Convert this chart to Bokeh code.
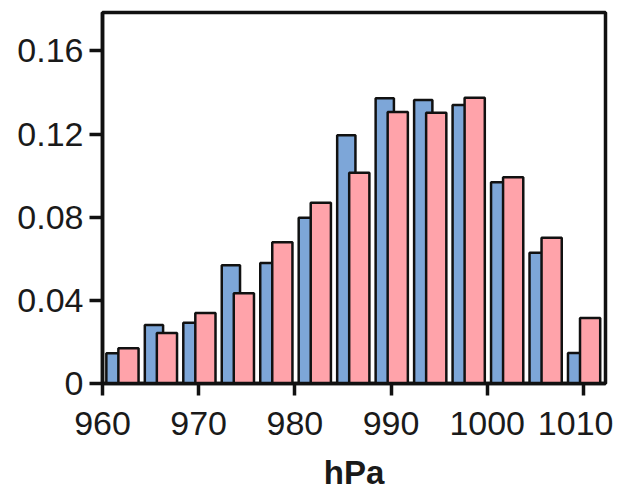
from bokeh.plotting import figure
from bokeh.models import FixedTicker, Range1d
from bokeh.embed import file_html
from bokeh.resources import INLINE

bin_start = [960, 964, 968, 972, 976, 980, 984, 988, 992, 996, 1000, 1004, 1008]
blue_vals = [0.0145, 0.0281, 0.0292, 0.0569, 0.0580, 0.0797, 0.1194, 0.1373, 0.1364, 0.1340, 0.0968, 0.0629, 0.0147]
pink_vals = [0.0169, 0.0243, 0.0339, 0.0434, 0.0679, 0.0870, 0.1014, 0.1306, 0.1303, 0.1375, 0.0992, 0.0701, 0.0315]
x_ticks = [960, 970, 980, 990, 1000, 1010]
y_ticks = [0, 0.04, 0.08, 0.12, 0.16]
y_labels = ["0", "0.04", "0.08", "0.12", "0.16"]

FONT = "Liberation Sans"

p = figure(width=613, height=494, output_backend="svg", toolbar_location=None,
           x_range=Range1d(960, 1012.3), y_range=Range1d(0, 0.1785),
           min_border_left=102, min_border_right=8, min_border_top=12, min_border_bottom=111)

blue_x = [s + 1.35 for s in bin_start]
pink_x = [s + 2.7 for s in bin_start]
p.vbar(x=blue_x, top=blue_vals, width=1.9, bottom=0, fill_color="#7DA6D8",
       line_color="#111111", line_width=2.5)
p.vbar(x=pink_x, top=pink_vals, width=2.1, bottom=0, fill_color="#FFA3AA",
       line_color="#111111", line_width=2.5)

p.xgrid.visible = False
p.ygrid.visible = False
p.outline_line_color = "#111111"
p.outline_line_width = 3.5
p.outline_line_alpha = 1

for ax in (p.xaxis[0], p.yaxis[0]):
    ax.axis_line_width = 3.5
    ax.axis_line_color = "#111111"
    ax.major_tick_line_width = 3.5
    ax.major_tick_line_color = "#111111"
    ax.major_tick_in = 0
    ax.minor_tick_line_color = None
    ax.major_label_text_font = FONT
    ax.major_label_text_font_size = "34px"
    ax.major_label_text_color = "#1a1a1a"

p.xaxis[0].ticker = FixedTicker(ticks=x_ticks)
p.xaxis[0].major_tick_out = 12
p.xaxis[0].major_label_standoff = 16
p.xaxis[0].axis_label = "hPa"
p.xaxis[0].axis_label_text_font = FONT
p.xaxis[0].axis_label_text_font_style = "bold"
p.xaxis[0].axis_label_text_font_size = "33px"
p.xaxis[0].axis_label_text_color = "#1a1a1a"
p.xaxis[0].axis_label_standoff = 16

p.yaxis[0].ticker = FixedTicker(ticks=y_ticks)
p.yaxis[0].major_label_overrides = {t: l for t, l in zip(y_ticks, y_labels)}
p.yaxis[0].major_tick_out = 13
p.yaxis[0].major_label_standoff = 6

open("out.html", "w").write(file_html(p, INLINE))
